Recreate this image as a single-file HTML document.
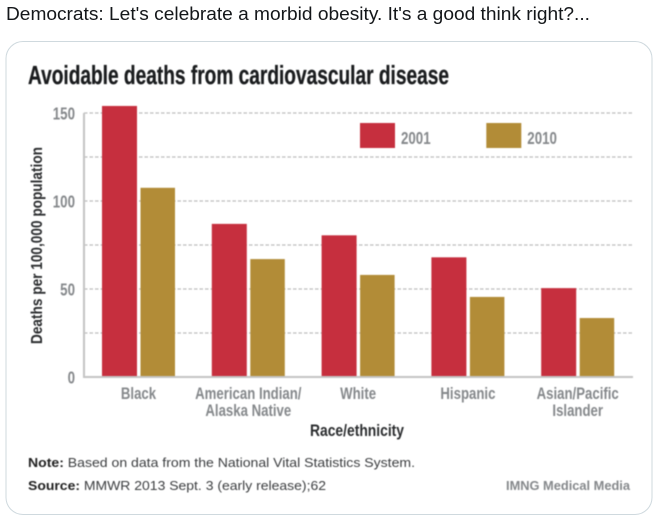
<!DOCTYPE html>
<html>
<head>
<meta charset="utf-8">
<style>
html,body{margin:0;padding:0;background:#fff;width:657px;height:521px;overflow:hidden}
svg{display:block}
text{font-family:"Liberation Sans",sans-serif}
</style>
</head>
<body>
<svg id="root" width="657" height="521" viewBox="0 0 657 521">
  <text x="6" y="20" font-size="18.5" fill="#14171a" textLength="584" lengthAdjust="spacingAndGlyphs">Democrats: Let's celebrate a morbid obesity. It's a good think right?...</text>
  <rect x="6" y="41.5" width="646" height="473" rx="17" fill="#fff" stroke="#cfd9de"/>
  <g id="chart" style="filter:blur(0.4px)">
    <text x="28" y="84" font-size="25.5" font-weight="700" fill="#1a1c1e" stroke="#1a1c1e" stroke-width="0.3" textLength="421" lengthAdjust="spacingAndGlyphs">Avoidable deaths from cardiovascular disease</text>
    <text transform="translate(42,344) rotate(-90)" font-size="16" font-weight="700" fill="#2a2c2e" textLength="197" lengthAdjust="spacingAndGlyphs">Deaths per 100,000 population</text>
    <text x="357" y="436" text-anchor="middle" font-size="16.5" font-weight="700" fill="#2a2c2e" textLength="94" lengthAdjust="spacingAndGlyphs">Race/ethnicity</text>
    <g id="grid"></g>
    <g id="bars"></g>
    <path d="M84 113V377H633" fill="none" stroke="#c4c4c4" stroke-width="2"/>
    <g id="yticks"></g>
    <g id="xlabels"></g>
    <g id="legend"></g>
    <text x="28" y="467" font-size="13" fill="#3c3e40" textLength="387" lengthAdjust="spacingAndGlyphs"><tspan font-weight="700" fill="#222">Note:</tspan> Based on data from the National Vital Statistics System.</text>
    <text x="28" y="490" font-size="13" fill="#3c3e40" textLength="298" lengthAdjust="spacingAndGlyphs"><tspan font-weight="700" fill="#222">Source:</tspan> MMWR 2013 Sept. 3 (early release);62</text>
    <text x="506" y="490" font-size="13" font-weight="700" fill="#85888b" textLength="124" lengthAdjust="spacingAndGlyphs">IMNG Medical Media</text>
  </g>
</svg>
<script>
var categories = [["Black"], ["American Indian/", "Alaska Native"], ["White"], ["Hispanic"], ["Asian/Pacific", "Islander"]];
var values2001 = [154, 87, 80.5, 68, 50.5];
var values2010 = [107.5, 67, 58, 45.5, 33.5];
var seriesNames = ["2001", "2010"];
var gridTicks = [25, 50, 75, 100, 125, 150];
var yTickLabels = [0, 50, 100, 150];

var NS = "http://www.w3.org/2000/svg";
var RED = "#c62f3e", GOLD = "#b28c37", GREY = "#85888b";
function yScale(v) { return 377 - v * 1.76; }
function xCenter(i) { return 138.5 + i * 109.8; }
function make(tag, attrs, parent) {
  var el = document.createElementNS(NS, tag);
  for (var k in attrs) el.setAttribute(k, attrs[k]);
  parent.appendChild(el);
  return el;
}
var grid = document.getElementById("grid");
var bars = document.getElementById("bars");
var yticks = document.getElementById("yticks");
var xlabels = document.getElementById("xlabels");
var legend = document.getElementById("legend");

gridTicks.forEach(function (t) {
  var line = make("line", {x1: 84, x2: 633, y1: yScale(t), y2: yScale(t), stroke: "#bdbdbd", "stroke-width": 1.3, "stroke-dasharray": "3.5 2"}, grid);
  
  
});

categories.forEach(function (lines, i) {
  var c = xCenter(i);
  var a = make("rect", {x: c - 36.5, y: yScale(values2001[i]), width: 35, height: 377 - yScale(values2001[i]), fill: RED}, bars);
  
  
  var b = make("rect", {x: c + 2, y: yScale(values2010[i]), width: 34.5, height: 377 - yScale(values2010[i]), fill: GOLD}, bars);
  
  
  lines.forEach(function (s, j) {
    var t = make("text", {transform: "translate(" + c + "," + (399 + j * 17) + ") scale(0.8,1)", "text-anchor": "middle", "font-size": 16.5, "font-weight": 700, fill: GREY}, xlabels);
    t.textContent = s;
    
    
  });
});

yTickLabels.forEach(function (v) {
  var t = make("text", {transform: "translate(75," + (yScale(v) + 6.5) + ") scale(0.74,1)", "text-anchor": "end", "font-size": 18, "font-weight": 700, fill: GREY}, yticks);
  t.textContent = v;
  
  
});

seriesNames.forEach(function (n, i) {
  var lx = 360 + i * 126.3;
  var sw = make("rect", {x: lx, y: 123, width: 35, height: 25, fill: i === 0 ? RED : GOLD}, legend);
  
  
  var t = make("text", {transform: "translate(" + (lx + 41) + ",144) scale(0.74,1)", "font-size": 18, "font-weight": 700, fill: GREY}, legend);
  t.textContent = n;
  
  
});
</script>
</body>
</html>
